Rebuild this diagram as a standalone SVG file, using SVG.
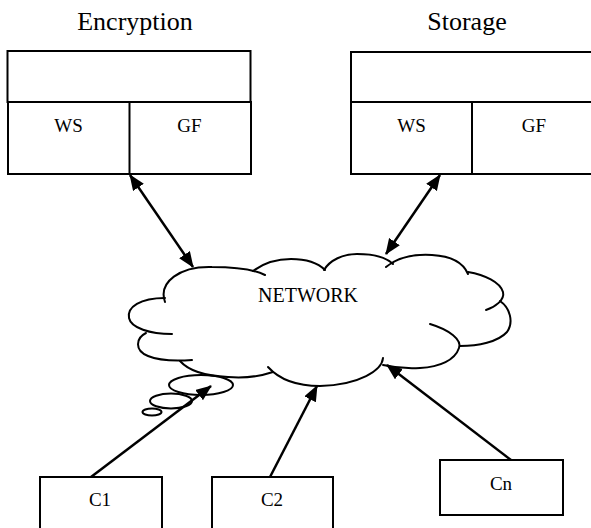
<svg xmlns="http://www.w3.org/2000/svg" width="591" height="528" viewBox="0 0 591 528">
  <style>
    .box { fill: #fff; stroke: #000; stroke-width: 2; }
    .div { stroke: #000; stroke-width: 2; }
    .title { font-family: "Liberation Serif", "Times New Roman", serif; font-size: 26px; fill: #000; text-anchor: middle; }
    .lbl { font-family: "Liberation Serif", "Times New Roman", serif; font-size: 19px; fill: #000; text-anchor: middle; }
    .cloud { fill: none; stroke: #000; stroke-width: 2; stroke-linecap: round; }
    .link { stroke: #000; stroke-width: 2.5; fill: none; }
    .one { marker-end: url(#head); }
    .two { marker-start: url(#head); marker-end: url(#head); }
  </style>
  <defs>
    <marker id="head" markerUnits="userSpaceOnUse" markerWidth="17" markerHeight="14" refX="15" refY="6.5" orient="auto-start-reverse">
      <path d="M0,0 L16,6.5 L0,13 z" fill="#000"/>
    </marker>
  </defs>

  <rect width="591" height="528" fill="#fff"/>

  <!-- Encryption server -->
  <g id="encryption">
    <text class="title" x="135" y="30">Encryption</text>
    <rect class="box" x="7.5" y="51" width="243" height="51"/>
    <rect class="box" x="8" y="102" width="243" height="72"/>
    <line class="div" x1="129.5" y1="102" x2="129.5" y2="174"/>
    <text class="lbl" x="68.5" y="132">WS</text>
    <text class="lbl" x="189.5" y="132">GF</text>
  </g>

  <!-- Storage server -->
  <g id="storage">
    <text class="title" x="467" y="30">Storage</text>
    <rect class="box" x="351" y="52" width="243" height="50"/>
    <rect class="box" x="351" y="102" width="243" height="72"/>
    <line class="div" x1="472" y1="102" x2="472" y2="174"/>
    <text class="lbl" x="411.5" y="132">WS</text>
    <text class="lbl" x="534" y="132">GF</text>
  </g>

  <!-- Network cloud -->
  <g id="network">
    <path class="cloud" d="M165,302 C158,282 180,266 212,267 C235,267 255,270 265,275"/>
    <path class="cloud" d="M253,271 C265,262 278,259 291,259 C306,259 318,263 325,270"/>
    <path class="cloud" d="M324,270 C330,260 343,254 357,254 C372,254 386,257 393,264"/>
    <path class="cloud" d="M386,267 C398,257 415,254 432,255 C450,256 463,262 468,274"/>
    <path class="cloud" d="M468,272 C485,275 500,282 503,292 C505,300 495,307 486,310"/>
    <path class="cloud" d="M500,301 C510,308 514,322 507,332 C498,342 478,346 460,346"/>
    <path class="cloud" d="M430,324 C450,330 462,340 459,348 C455,360 440,367 420,368 C405,369 392,367 383,365"/>
    <path class="cloud" d="M383,358 C382,370 360,385 320,386 C295,386 278,378 268,367"/>
    <path class="cloud" d="M273,372 C258,377 240,378 228,377 C205,376 188,370 180,361"/>
    <path class="cloud" d="M146,333 C136,338 134,350 148,356 C160,361 178,361 192,360"/>
    <path class="cloud" d="M165,298 C140,298 127,307 129,318 C131,328 150,334 172,334"/>
    <ellipse class="cloud" cx="201" cy="385" rx="32" ry="10"/>
    <ellipse class="cloud" cx="171" cy="401" rx="21" ry="7.5"/>
    <ellipse class="cloud" cx="152" cy="412" rx="9.5" ry="3.5"/>
    <text class="lbl" x="308" y="302" style="font-size:20px">NETWORK</text>
  </g>

  <!-- Clients -->
  <g id="c1">
    <rect class="box" x="40" y="477" width="122" height="60"/>
    <text class="lbl" x="100" y="506">C1</text>
  </g>
  <g id="c2">
    <rect class="box" x="212" y="477" width="121" height="60"/>
    <text class="lbl" x="272" y="506">C2</text>
  </g>
  <g id="cn">
    <rect class="box" x="440" y="460" width="123" height="55"/>
    <text class="lbl" x="501" y="490">Cn</text>
  </g>

  <!-- Connectors -->
  <g id="connectors">
    <line class="link two" x1="193" y1="267" x2="130" y2="175"/>
    <line class="link two" x1="386" y1="254" x2="440" y2="175"/>
    <line class="link one" x1="91" y1="477" x2="211" y2="386"/>
    <line class="link one" x1="270" y1="477" x2="317" y2="386"/>
    <line class="link one" x1="511" y1="460" x2="387" y2="365"/>
  </g>
</svg>
